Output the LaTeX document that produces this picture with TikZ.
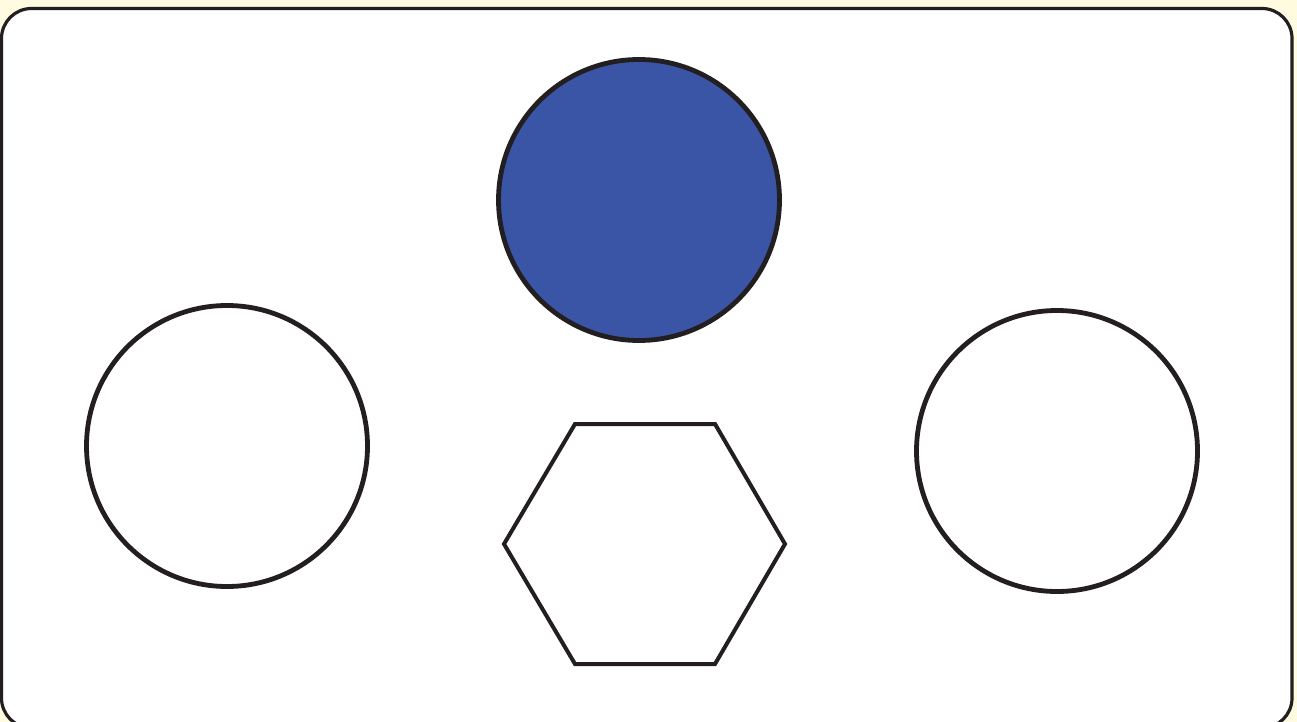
\documentclass[tikz,border=0pt]{standalone}
\definecolor{cream}{HTML}{FFFBE0}
\definecolor{ink}{HTML}{231F20}
\definecolor{blueF}{HTML}{3A55A5}
\tikzset{
  disc/.style={circle, draw=ink, line width=4.8pt, minimum size=281pt, inner sep=0pt, outer sep=0pt},
  hexline/.style={draw=ink, line width=4pt, line join=miter}
}
\begin{document}
\begin{tikzpicture}[x=1pt,y=-1pt]
\useasboundingbox (0,0) rectangle (1297,722);
\fill[cream] (0,0) rectangle (1297,722);
\draw[ink, line width=3.2pt, fill=white, rounded corners=30pt] (1.5,8.5) rectangle (1292,728);
\node[disc, fill=blueF] (top) at (639,200) {};
\node[disc, fill=white] (left) at (227,446) {};
\node[disc, fill=white] (right) at (1057,451) {};
\coordinate (h1) at (575,424);
\coordinate (h2) at (715,424);
\coordinate (h3) at (785,544);
\coordinate (h4) at (715,664);
\coordinate (h5) at (575,664);
\coordinate (h6) at (504,544);
\draw[hexline] (h1) -- (h2) -- (h3) -- (h4) -- (h5) -- (h6) -- cycle;
\end{tikzpicture}
\end{document}
